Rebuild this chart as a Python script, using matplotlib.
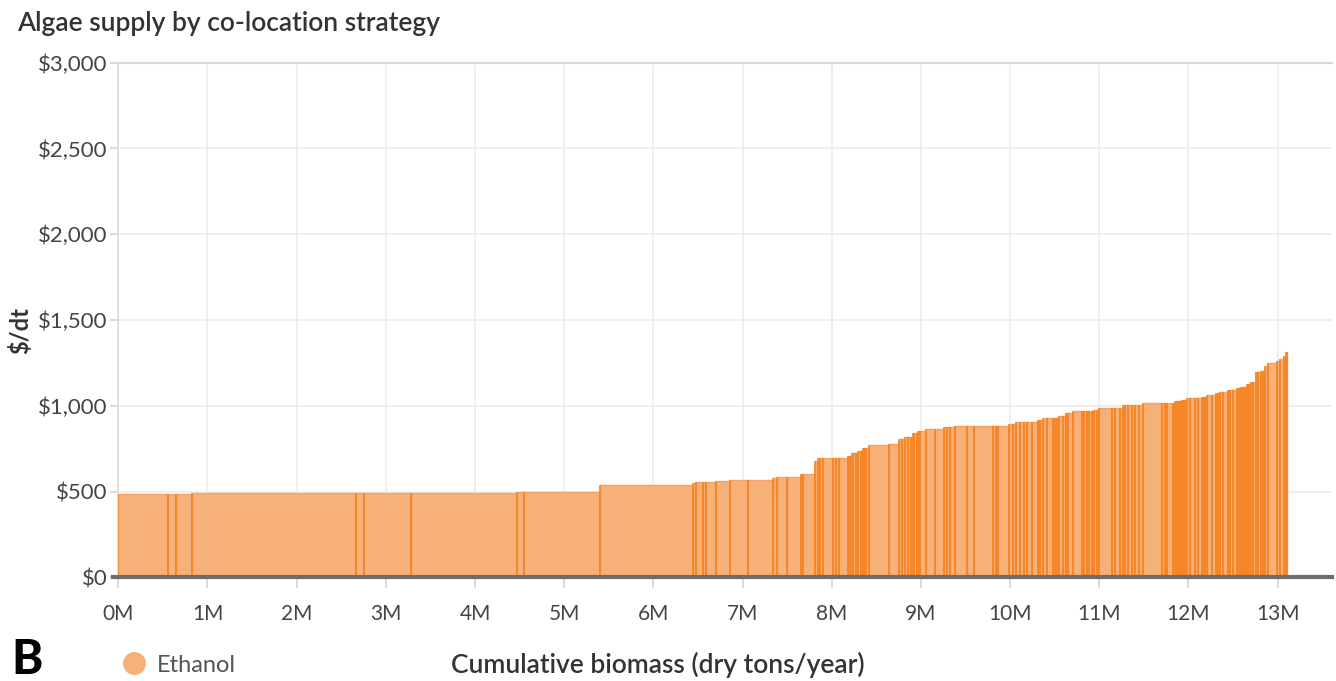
import numpy as np
import matplotlib
matplotlib.use("Agg")
import matplotlib.pyplot as plt
from matplotlib.lines import Line2D

# ---- data: individual co-location sites (million dry tons/yr) and cost ($/dt) ----
site_size_mt = [
    0.561, 0.089, 0.180, 1.832, 0.093, 0.524, 1.188, 0.086, 0.850, 1.038,
    0.037, 0.082, 0.030, 0.110, 0.160, 0.200, 0.285, 0.038, 0.112, 0.157,
    0.029, 0.131, 0.037, 0.019, 0.037, 0.106, 0.037, 0.037, 0.101, 0.019,
    0.019, 0.020, 0.030, 0.024, 0.025, 0.024, 0.010, 0.030, 0.034, 0.224,
    0.109, 0.030, 0.037, 0.037, 0.026, 0.024, 0.019, 0.026, 0.018, 0.019,
    0.067, 0.101, 0.101, 0.030, 0.037, 0.056, 0.138, 0.078, 0.213, 0.030,
    0.026, 0.124, 0.037, 0.038, 0.045, 0.045, 0.030, 0.056, 0.074, 0.019,
    0.037, 0.038, 0.067, 0.026, 0.019, 0.030, 0.045, 0.026, 0.030, 0.056,
    0.094, 0.026, 0.030, 0.029, 0.027, 0.026, 0.030, 0.029, 0.142, 0.037,
    0.056, 0.027, 0.026, 0.037, 0.038, 0.037, 0.048, 0.039, 0.213, 0.037,
    0.026, 0.067, 0.019, 0.019, 0.019, 0.019, 0.018, 0.021, 0.021, 0.021,
    0.030, 0.056, 0.038, 0.038, 0.019, 0.019, 0.018, 0.056, 0.048, 0.022,
    0.023, 0.037, 0.049, 0.026, 0.037, 0.038, 0.022, 0.023, 0.022, 0.022,
    0.023, 0.022, 0.023, 0.030, 0.029, 0.026, 0.027, 0.024, 0.024, 0.037,
    0.095, 0.037, 0.045, 0.019, 0.018,
]
site_cost = [
    484, 484, 484, 492, 492, 492, 492, 500, 500, 539,
    547, 557, 557, 557, 559, 566, 566, 576, 583, 583,
    603, 603, 677, 696, 696, 696, 696, 696, 696, 706,
    706, 726, 726, 726, 737, 737, 751, 751, 751, 770,
    780, 807, 807, 817, 817, 817, 844, 844, 844, 854,
    854, 864, 864, 874, 874, 874, 883, 883, 883, 883,
    883, 883, 893, 893, 903, 903, 903, 903, 903, 916,
    916, 930, 930, 930, 930, 930, 940, 940, 957, 957,
    967, 967, 967, 967, 967, 967, 977, 977, 988, 988,
    988, 988, 1004, 1004, 1004, 1004, 1004, 1004, 1018, 1018,
    1018, 1018, 1018, 1027, 1027, 1027, 1027, 1035, 1035, 1035,
    1045, 1045, 1045, 1045, 1054, 1054, 1054, 1064, 1064, 1074,
    1074, 1083, 1083, 1093, 1093, 1093, 1101, 1101, 1111, 1111,
    1111, 1124, 1124, 1139, 1139, 1194, 1194, 1204, 1204, 1231,
    1251, 1260, 1270, 1290, 1315,
]
series_name = "Ethanol"
y_ticks = [0, 500, 1000, 1500, 2000, 2500, 3000]
y_tick_labels = ["$0", "$500", "$1,000", "$1,500", "$2,000", "$2,500", "$3,000"]
x_ticks = list(range(14))
x_tick_labels = [f"{i}M" for i in x_ticks]

# ---- style ----
FILL = "#F6B078"
EDGE = "#F58728"
TOP = "#F7A262"
plt.rcParams["font.family"] = ["Lato", "DejaVu Sans"]

W, H = 1336, 681
fig = plt.figure(figsize=(W / 100, H / 100), dpi=100)
x0, x1, ytop, ybot = 118.3, 1331.7, 62.7, 577.3
ax = fig.add_axes([x0 / W, 1 - ybot / H, (x1 - x0) / W, (ybot - ytop) / H])

widths = np.array(site_size_mt)
costs = np.array(site_cost)
starts = np.concatenate([[0.0], np.cumsum(widths)[:-1]])

ax.bar(starts, costs, width=widths, align="edge", color=FILL,
       edgecolor=TOP, linewidth=1.0, zorder=2)
ax.vlines(starts, 0, costs, color=EDGE, linewidth=1.2, zorder=3)
ax.vlines(starts + widths, 0, costs, color=EDGE, linewidth=1.2, zorder=3)

ax.set_xlim(0, (x1 - x0) / 89.18)
ax.set_ylim(0, 3000)
ax.set_xticks(x_ticks)
ax.set_xticklabels(x_tick_labels)
ax.set_yticks(y_ticks)
ax.set_yticklabels(y_tick_labels)

ax.grid(True, color="#ebebeb", linewidth=1.1, zorder=0)
ax.set_axisbelow(True)
for s in ["right", "bottom"]:
    ax.spines[s].set_visible(False)
ax.spines["top"].set_color("#d9d9d9")
ax.spines["top"].set_linewidth(1.6)
ax.spines["left"].set_color("#dcdcdc")
ax.spines["left"].set_linewidth(1.2)

ax.tick_params(axis="y", length=6, width=1.1, color="#d0d0d0", pad=2,
               labelsize=16, labelcolor="#444444")
ax.tick_params(axis="x", length=8, width=1.1, color="#d0d0d0", pad=11,
               labelsize=15, labelcolor="#444444")

# baseline
ax.add_line(Line2D([-5 / (x1 - x0), 1], [0, 0], transform=ax.transAxes,
                   color="#6d6d6d", linewidth=3.0, clip_on=False, zorder=5))

# texts
fig.text(17 / W, 1 - 31.5 / H, "Algae supply by co-location strategy",
         fontsize=19, fontweight="semibold", color="#333333",
         ha="left", va="baseline")
fig.text(20 / W, 1 - 331 / H, "$/dt", rotation=90, fontsize=17,
         fontweight="bold", color="#333333", ha="center", va="center")
fig.text(658 / W, 1 - 672.5 / H, "Cumulative biomass (dry tons/year)",
         fontsize=19, fontweight="semibold", color="#333333",
         ha="center", va="baseline")
fig.text(11 / W, 1 - 674 / H, "B", fontsize=34, fontweight="black",
         color="#000000", ha="left", va="baseline")

handle = Line2D([], [], marker="o", linestyle="", markersize=15.5,
                markerfacecolor=FILL, markeredgecolor=FILL)
fig.legend([handle], [series_name], loc="center left",
           bbox_to_anchor=(123 / W, 1 - 665 / H), frameon=False,
           fontsize=17, handlelength=0.95, handletextpad=0.5,
           borderpad=0, borderaxespad=0, labelcolor="#555555")

fig.savefig("out.png", dpi=100)
